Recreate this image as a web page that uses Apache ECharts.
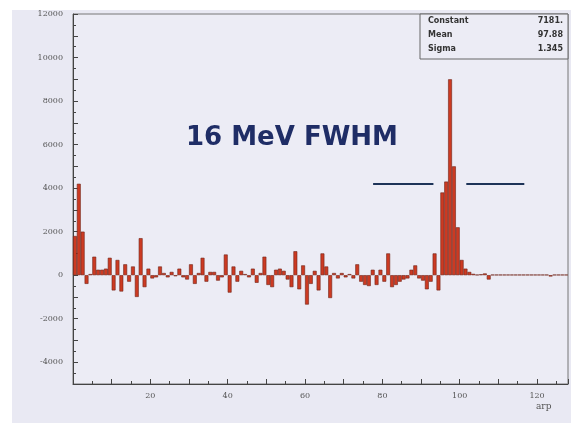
<!DOCTYPE html>
<html><head><meta charset="utf-8">
<script src="https://cdn.jsdelivr.net/npm/echarts@6/dist/echarts.min.js"></script>
<style>html,body{margin:0;padding:0;background:#fff}#c{width:571px;height:423px}</style>
</head><body><div id="c"></div>
<script>
// bin counts, one per unit bin starting at 0
const counts = [
 1800, 4200, 2000, -400, 50, 850, 250, 250, 300, 800,
 -700, 700, -750, 500, -300, 400, -1000, 1700, -550, 300,
 -150, -100, 400, 100, -100, 150, -50, 300, -100, -200,
 500, -400, 100, 800, -300, 150, 150, -250, -100, 950,
 -800, 400, -300, 200, 50, -100, 300, -350, 100, 850,
 -450, -550, 250, 300, 200, -200, -550, 1100, -650, 450,
 -1350, -400, 200, -700, 1000, 400, -1050, 100, -150, 100,
 -100, 50, -150, 500, -300, -450, -500, 250, -450, 250,
 -300, 1000, -550, -450, -300, -200, -150, 250, 450, -150,
 -250, -650, -300, 1000, -700, 3800, 4300, 9000, 5000, 2200,
 700, 300, 150, 60, 20, 40, 80, -200, 20, 20,
 20, 20, 20, 20, 20, 20, 20, 20, 20, 20,
 20, 20, 20, -60, 20, 20, 20, 20
];
const xTickLabels = [20, 40, 60, 80, 100, 120];
const yTickLabels = [-4000, -2000, 0, 2000, 4000, 6000, 8000, 10000, 12000];
const fwhmLines = [[[77.6, 4200], [93.2, 4200]], [[101.7, 4200], [116.7, 4200]]];
const statNames = ['Constant', 'Mean', 'Sigma'];
const statValues = ['7181.', '97.88', '1.345'];
const annotation = '16 MeV FWHM';
const xName = 'arp';

const chart = echarts.init(document.getElementById('c'));
const gridL = 73, gridR = 3, gridT = 14, gridB = 39;
const plotW = 571 - gridL - gridR;
const binPx = plotW / 128;

const data = counts.map((v, i) => [i + 0.5, v]);
const graphic = [
  {type: 'rect', z: -10, shape: {x: 12, y: 10, width: 559, height: 413}, style: {fill: '#e9e9f3'}},
  {type: 'rect', z: 10, shape: {x: 420, y: 14, width: 148, height: 45}, style: {fill: '#ececf5', stroke: '#666', lineWidth: 1}}
];
statNames.forEach((n, i) => {
  graphic.push({type: 'text', z: 11, x: 428, y: 17 + i * 14, style: {text: n, fontSize: 8, fontWeight: 'bold', fontFamily: 'DejaVu Sans', fill: '#333'}});
  graphic.push({type: 'text', z: 11, x: 563, y: 17 + i * 14, style: {text: statValues[i], fontSize: 8, fontWeight: 'bold', fontFamily: 'DejaVu Sans', fill: '#333', align: 'right'}});
});
graphic.push({type: 'text', z: 11, left: 536, top: 402, style: {text: xName, fontSize: 9, fontFamily: 'DejaVu Serif', fill: '#555'}});
graphic.push({type: 'text', z: 11, x: 186, y: 138, style: {text: annotation, fontSize: 26, fontWeight: 'bold', fontFamily: 'DejaVu Sans', fill: '#1f2d66', verticalAlign: 'middle'}});

chart.setOption({
  animation: false,
  backgroundColor: '#ffffff',
  graphic: graphic,
  grid: {left: gridL, right: gridR, top: gridT, bottom: gridB, show: true, backgroundColor: '#ececf5', borderColor: '#777', borderWidth: 1},
  xAxis: {
    type: 'value', min: 0, max: 128, interval: 10,
    axisLine: {onZero: false, lineStyle: {color: '#444', width: 1}},
    axisTick: {inside: true, length: 5, lineStyle: {color: '#444'}},
    minorTick: {show: true, splitNumber: 2, length: 3, lineStyle: {color: '#444'}},
    splitLine: {show: false},
    axisLabel: {margin: 8, color: '#555', fontFamily: 'DejaVu Serif', fontSize: 8,
      formatter: v => xTickLabels.indexOf(v) >= 0 ? String(v) : ''}
  },
  yAxis: {
    type: 'value', min: -5000, max: 12000, interval: 1000,
    axisLine: {show: true, lineStyle: {color: '#444', width: 1}},
    axisTick: {inside: true, length: 5, lineStyle: {color: '#444'}},
    minorTick: {show: true, splitNumber: 2, length: 3, lineStyle: {color: '#444'}},
    splitLine: {show: false},
    axisLabel: {margin: 10, color: '#555', fontFamily: 'DejaVu Serif', fontSize: 8,
      formatter: v => yTickLabels.indexOf(v) >= 0 ? String(v) : ''}
  },
  series: [{
    type: 'bar', data: data, barWidth: binPx, barGap: '-100%',
    itemStyle: {color: '#cc3a22', borderColor: '#6e2418', borderWidth: 0.6},
    markLine: {
      silent: true, symbol: 'none', label: {show: false},
      lineStyle: {color: '#1d3358', width: 2, type: 'solid'},
      data: fwhmLines.map(l => [{coord: l[0]}, {coord: l[1]}])
    }
  }]
});
</script></body></html>
